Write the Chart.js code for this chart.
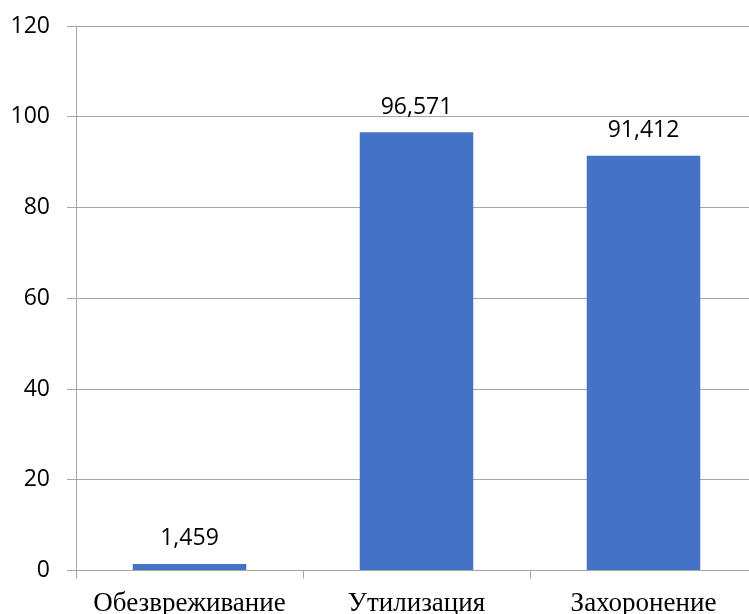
<!DOCTYPE html>
<html>
<head>
<meta charset="utf-8">
<script src="https://cdn.jsdelivr.net/npm/chart.js@4/dist/chart.umd.min.js"></script>
<style>
  html, body { margin: 0; padding: 0; background: #fff; overflow: hidden; }
  #wrap { position: relative; width: 757px; height: 614px; }
</style>
</head>
<body>
<div id="wrap"><canvas id="c"></canvas></div>
<script>
// Обращение с отходами, тыс. т
const categories = ['Обезвреживание', 'Утилизация', 'Захоронение'];
const values = [1.459, 96.571, 91.412];
const yTicks = [0, 20, 40, 60, 80, 100, 120];

const gridColor = '#a6a6a6';
const barColor = '#4472c4';

// Value labels above each bar, decimal comma
const valueLabels = {
  id: 'valueLabels',
  afterDatasetsDraw(chart) {
    const ctx = chart.ctx;
    const meta = chart.getDatasetMeta(0);
    ctx.save();
    ctx.font = '23px "Open Sans"';
    ctx.fillStyle = '#000';
    ctx.textAlign = 'center';
    ctx.textBaseline = 'alphabetic';
    meta.data.forEach((bar, i) => {
      const txt = values[i].toFixed(3).replace('.', ',');
      ctx.fillText(txt, bar.x, bar.y - 18.5);
    });
    ctx.restore();
  }
};

new Chart(document.getElementById('c'), {
  type: 'bar',
  data: {
    labels: categories,
    datasets: [{
      data: values,
      backgroundColor: barColor,
      borderWidth: 0,
      categoryPercentage: 1,
      barPercentage: 0.5
    }]
  },
  options: {
    responsive: true,
    maintainAspectRatio: false,
    animation: false,
    layout: { padding: { top: 26, left: 10, right: 0, bottom: 0 } },
    plugins: { legend: { display: false }, tooltip: { enabled: false } },
    scales: {
      x: {
        afterFit(scale) { scale.height = 43.5; },
        grid: {
          offset: true,
          drawOnChartArea: false,
          drawTicks: true,
          tickLength: 8,
          color: gridColor
        },
        border: { color: gridColor },
        ticks: {
          color: '#000',
          padding: 9,
          font: { family: '"Liberation Serif", "Times New Roman", serif', size: 27 }
        }
      },
      y: {
        min: 0,
        max: 120,
        afterBuildTicks(scale) { scale.ticks = yTicks.map(v => ({ value: v })); },
        afterFit(scale) { scale.width = 66; },
        grid: { color: gridColor, tickLength: 9 },
        border: { color: gridColor },
        ticks: {
          color: '#000',
          padding: 17,
          font: { family: '"Open Sans", sans-serif', size: 23, lineHeight: 0.7 }
        }
      }
    }
  },
  plugins: [valueLabels]
});
</script>
</body>
</html>
